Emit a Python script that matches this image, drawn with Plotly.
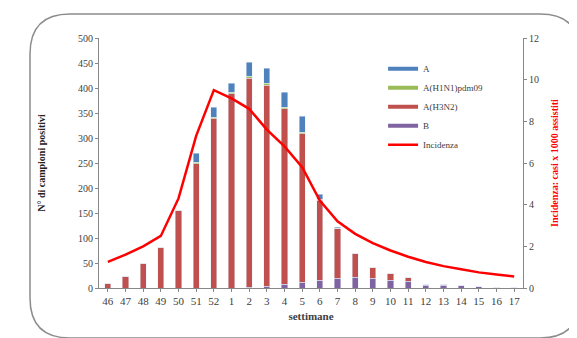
import plotly.graph_objects as go

weeks = ["46", "47", "48", "49", "50", "51", "52", "1", "2", "3", "4", "5",
         "6", "7", "8", "9", "10", "11", "12", "13", "14", "15", "16", "17"]
a_vals = [0, 0, 0, 0, 0, 18, 20, 18, 28, 30, 30, 32, 10, 2, 0, 0, 0, 0, 0, 0, 0, 0, 0, 0]
h1n1_vals = [0, 0, 0, 0, 1, 3, 3, 3, 4, 4, 3, 3, 2, 1, 0, 0, 0, 0, 0, 0, 0, 0, 0, 0]
h3n2_vals = [10, 24, 50, 82, 155, 249, 339, 389, 418, 402, 351, 297, 160, 99, 48, 22, 14, 8, 2, 2, 1, 0, 0, 0]
b_vals = [0, 0, 0, 0, 0, 0, 0, 0, 2, 4, 8, 12, 16, 20, 22, 20, 16, 14, 6, 6, 5, 3, 2, 1]
incidenza = [1.25, 1.6, 2.0, 2.5, 4.3, 7.3, 9.5, 9.1, 8.6, 7.6, 6.8, 5.8, 4.2, 3.2,
             2.6, 2.15, 1.8, 1.5, 1.25, 1.05, 0.9, 0.75, 0.65, 0.55]
left_ticks = [0, 50, 100, 150, 200, 250, 300, 350, 400, 450, 500]
right_ticks = [0, 2, 4, 6, 8, 10, 12]

FONT = "Liberation Serif"
C_A, C_H1, C_H3, C_B, C_INC = "#4f81bd", "#9bbb59", "#c0504d", "#8064a2", "#ff0000"

fig = go.Figure()
fig.add_trace(go.Bar(x=weeks, y=b_vals, name="B", marker_color=C_B, showlegend=False))
fig.add_trace(go.Bar(x=weeks, y=h3n2_vals, name="A(H3N2)", marker_color=C_H3, showlegend=False))
fig.add_trace(go.Bar(x=weeks, y=h1n1_vals, name="A(H1N1)pdm09", marker_color=C_H1, showlegend=False))
fig.add_trace(go.Bar(x=weeks, y=a_vals, name="A", marker_color=C_A, showlegend=False))
fig.add_trace(go.Scatter(x=weeks, y=incidenza, name="Incidenza", mode="lines",
                         line=dict(color=C_INC, width=2.5), yaxis="y2", showlegend=False))

# legend entries (line-style keys as in the original)
for rank, (nm, col, w) in enumerate([("A", C_A, 4), ("A(H1N1)pdm09", C_H1, 4),
                                     ("A(H3N2)", C_H3, 4), ("B", C_B, 4),
                                     ("Incidenza", C_INC, 2.5)], start=1):
    fig.add_trace(go.Scatter(x=[None], y=[None], mode="lines", name=nm,
                             line=dict(color=col, width=w), legendrank=rank))

L, T, W, H = 91, 30, 424, 250
def px(x):
    return (x - L) / W
def py(y):
    return (T + H - y) / H
x0, x1, y0, y1, r = 22, 572, 6, 330, 40
path = (f"M {px(x0+r)},{py(y0)} L {px(x1-r)},{py(y0)} "
        f"Q {px(x1)},{py(y0)} {px(x1)},{py(y0+r)} "
        f"L {px(x1)},{py(y1-r)} Q {px(x1)},{py(y1)} {px(x1-r)},{py(y1)} "
        f"L {px(x0+r)},{py(y1)} Q {px(x0)},{py(y1)} {px(x0)},{py(y1-r)} "
        f"L {px(x0)},{py(y0+r)} Q {px(x0)},{py(y0)} {px(x0+r)},{py(y0)} Z")

fig.update_layout(
    width=577, height=338,
    margin=dict(l=L, r=577 - L - W, t=T, b=338 - T - H),
    paper_bgcolor="white", plot_bgcolor="white",
    barmode="stack", bargap=0.65,
    font=dict(family=FONT, size=11, color="#404040"),
    showlegend=True,
    legend=dict(x=0.67, y=0.935, xanchor="left", yanchor="top", traceorder="normal",
                font=dict(family=FONT, size=9, color="#404040"),
                bgcolor="rgba(0,0,0,0)", tracegroupgap=0, itemwidth=30),
    xaxis=dict(type="category", showline=True, linecolor="#888", linewidth=1,
               ticks="outside", ticklen=3, tickcolor="#888", showgrid=False,
               tickfont=dict(family=FONT, size=11, color="#404040"),
               title=dict(text="<b>settimane</b>", font=dict(family=FONT, size=11, color="#404040"),
                          standoff=6)),
    yaxis=dict(range=[0, 500], tickvals=left_ticks, showline=True, linecolor="#888",
               linewidth=1, ticks="outside", ticklen=3, tickcolor="#888", showgrid=False,
               zeroline=False,
               tickfont=dict(family=FONT, size=10, color="#404040"),
               title=dict(text="<b>N° di campioni positivi</b>",
                          font=dict(family=FONT, size=10, color="#202020"), standoff=30)),
    yaxis2=dict(range=[0, 12], tickvals=right_ticks, overlaying="y", side="right",
                showline=True, linecolor="#888", linewidth=1, ticks="outside", ticklen=3,
                tickcolor="#888", showgrid=False, zeroline=False,
                tickfont=dict(family=FONT, size=10, color="#404040"),
                title=dict(text="<b>Incidenza: casi x 1000 assistiti</b>",
                           font=dict(family=FONT, size=10, color="#ff0000"), standoff=12)),
    shapes=[dict(type="path", path=path, xref="paper", yref="paper",
                 line=dict(color="#8c8c8c", width=1.5), layer="below")],
)

fig.write_html("out.html")
